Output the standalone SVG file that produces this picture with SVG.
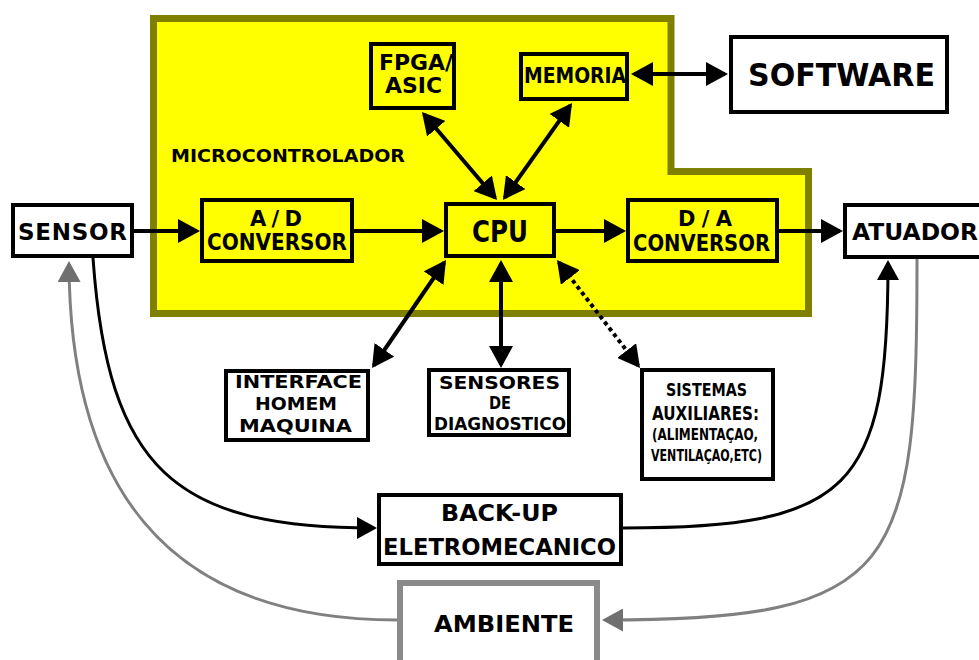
<svg xmlns="http://www.w3.org/2000/svg" width="979" height="660" viewBox="0 0 979 660">
  <defs>
    <style>
      .box{fill:#fff;stroke:#000;stroke-width:4}
      .ybox{fill:#ff0;stroke:#000;stroke-width:4}
      .t{font-family:"DejaVu Sans",Verdana,sans-serif;font-weight:bold;fill:#000}
      .ln{fill:none;stroke:#000;stroke-width:4}
      .dot{stroke-dasharray:4 3.5}
      .cv{fill:none;stroke:#000;stroke-width:3}
      .gv{fill:none;stroke:#808080;stroke-width:3}
    </style>
    <!-- big filled head for straight connectors -->
    <marker id="ah" markerUnits="userSpaceOnUse" markerWidth="22" markerHeight="24" refX="19" refY="12" orient="auto-start-reverse">
      <path d="M0,0 L22,12 L0,24 z" fill="#000"/>
    </marker>
    <!-- heads for the curved loops -->
    <marker id="ch" markerUnits="userSpaceOnUse" markerWidth="20" markerHeight="22" refX="17" refY="11" orient="auto">
      <path d="M0,0 L20,11 L0,22 z" fill="#000"/>
    </marker>
    <marker id="gh" markerUnits="userSpaceOnUse" markerWidth="21" markerHeight="23" refX="18" refY="11.5" orient="auto">
      <path d="M0,0 L21,11.5 L0,23 z" fill="#707070"/>
    </marker>
  </defs>

  <rect x="0" y="0" width="979" height="660" fill="#fff"/>

  <!-- microcontroller area -->
  <g id="microcontrolador">
    <polygon points="153.5,18.5 671,18.5 671,171.5 808.5,171.5 808.5,313.5 153.5,313.5" fill="#ff0" stroke="#7f7f00" stroke-width="7"/>
    <text class="t" x="171" y="162" font-size="18" textLength="234" lengthAdjust="spacingAndGlyphs">MICROCONTROLADOR</text>
  </g>

  <g id="fpga">
    <rect class="ybox" x="371" y="44" width="83" height="64"/>
    <text class="t" x="379" y="70" font-size="22" textLength="74" lengthAdjust="spacingAndGlyphs">FPGA/</text>
    <text class="t" x="385" y="93" font-size="22" textLength="57" lengthAdjust="spacingAndGlyphs">ASIC</text>
  </g>

  <g id="memoria">
    <rect class="ybox" x="521" y="54" width="106" height="45"/>
    <text class="t" x="524" y="83" font-size="22" textLength="102" lengthAdjust="spacingAndGlyphs">MEMORIA</text>
  </g>

  <g id="software">
    <rect class="box" x="731" y="37" width="216" height="75"/>
    <text class="t" x="748" y="86" font-size="32" textLength="187" lengthAdjust="spacingAndGlyphs">SOFTWARE</text>
  </g>

  <g id="sensor">
    <rect class="box" x="13" y="205" width="119" height="51"/>
    <text class="t" x="18" y="240" font-size="23" textLength="109" lengthAdjust="spacing">SENSOR</text>
  </g>

  <g id="ad">
    <rect class="ybox" x="202" y="200" width="150" height="61"/>
    <text class="t" x="250" y="226" font-size="21" textLength="52" lengthAdjust="spacing">A/D</text>
    <text class="t" x="207" y="250" font-size="23" textLength="140" lengthAdjust="spacingAndGlyphs">CONVERSOR</text>
  </g>

  <g id="cpu">
    <rect class="ybox" x="446" y="204" width="108" height="52"/>
    <text class="t" x="472" y="242" font-size="30" textLength="56" lengthAdjust="spacingAndGlyphs">CPU</text>
  </g>

  <g id="da">
    <rect class="ybox" x="628" y="200" width="149" height="61"/>
    <text class="t" x="678" y="226" font-size="21" textLength="54" lengthAdjust="spacing">D/A</text>
    <text class="t" x="633" y="251" font-size="23" textLength="137" lengthAdjust="spacingAndGlyphs">CONVERSOR</text>
  </g>

  <g id="atuador">
    <rect class="box" x="845" y="205" width="145" height="52"/>
    <text class="t" x="852" y="240" font-size="23" textLength="126" lengthAdjust="spacingAndGlyphs">ATUADOR</text>
  </g>

  <g id="interface">
    <rect class="box" x="226" y="371" width="142" height="69"/>
    <text class="t" x="235" y="388" font-size="17" textLength="127" lengthAdjust="spacingAndGlyphs">INTERFACE</text>
    <text class="t" x="255" y="410" font-size="17" textLength="82" lengthAdjust="spacingAndGlyphs">HOMEM</text>
    <text class="t" x="239" y="432" font-size="17" textLength="113" lengthAdjust="spacingAndGlyphs">MAQUINA</text>
  </g>

  <g id="sensores">
    <rect class="box" x="429" y="370" width="140" height="65"/>
    <text class="t" x="439" y="389" font-size="17" textLength="121" lengthAdjust="spacingAndGlyphs">SENSORES</text>
    <text class="t" x="489" y="409" font-size="17" textLength="22" lengthAdjust="spacingAndGlyphs">DE</text>
    <text class="t" x="434" y="430" font-size="17" textLength="132" lengthAdjust="spacingAndGlyphs">DIAGNOSTICO</text>
  </g>

  <g id="sistemas">
    <rect class="box" x="642" y="370" width="131" height="109"/>
    <text class="t" x="666" y="396" font-size="17" textLength="81" lengthAdjust="spacingAndGlyphs">SISTEMAS</text>
    <text class="t" x="652" y="420" font-size="19" textLength="107" lengthAdjust="spacingAndGlyphs">AUXILIARES:</text>
    <text class="t" x="652" y="440" font-size="16" textLength="106" lengthAdjust="spacingAndGlyphs">(ALIMENTAÇAO,</text>
    <text class="t" x="651" y="461" font-size="15" textLength="111" lengthAdjust="spacingAndGlyphs">VENTILAÇAO,ETC)</text>
  </g>

  <g id="backup">
    <rect class="box" x="379" y="495" width="242" height="69"/>
    <text class="t" x="441" y="521" font-size="23" textLength="117" lengthAdjust="spacingAndGlyphs">BACK-UP</text>
    <text class="t" x="383" y="555" font-size="23" textLength="233" lengthAdjust="spacingAndGlyphs">ELETROMECANICO</text>
  </g>

  <g id="ambiente">
    <rect x="400" y="583" width="197" height="100" fill="#fff" stroke="#8a8a8a" stroke-width="6"/>
    <text class="t" x="434" y="632" font-size="23" textLength="140" lengthAdjust="spacingAndGlyphs">AMBIENTE</text>
  </g>

  <!-- connectors -->
  <g id="connectors">
    <path class="ln" d="M134,231 L197,231" marker-end="url(#ah)"/>
    <path class="ln" d="M354,231 L441,231" marker-end="url(#ah)"/>
    <path class="ln" d="M556,231 L623,231" marker-end="url(#ah)"/>
    <path class="ln" d="M779,231 L840,231" marker-end="url(#ah)"/>
    <path class="ln" d="M634,74 L725,74" marker-start="url(#ah)" marker-end="url(#ah)"/>
    <path class="ln" d="M423.9,114.3 L495.1,197.7" marker-start="url(#ah)" marker-end="url(#ah)"/>
    <path class="ln" d="M570.3,105.4 L504.7,197.6" marker-start="url(#ah)" marker-end="url(#ah)"/>
    <path class="ln" d="M444.3,262.5 L373.7,365.5" marker-start="url(#ah)" marker-end="url(#ah)"/>
    <path class="ln" d="M501,263 L501,365" marker-start="url(#ah)" marker-end="url(#ah)"/>
    <path class="ln dot" d="M558.8,262.4 L638.2,365.6" marker-start="url(#ah)" marker-end="url(#ah)"/>

    <path class="cv" d="M93,258 C108,470 175,528 374,528" marker-end="url(#ch)"/>
    <path class="cv" d="M623,528 C850,528 888,490 888,263" marker-end="url(#ch)"/>
    <path class="gv" d="M917,259 C917,570 900,620 605,620" marker-end="url(#gh)"/>
    <path class="gv" d="M397,620 C160,620 70,480 69,264" marker-end="url(#gh)"/>
  </g>
</svg>
